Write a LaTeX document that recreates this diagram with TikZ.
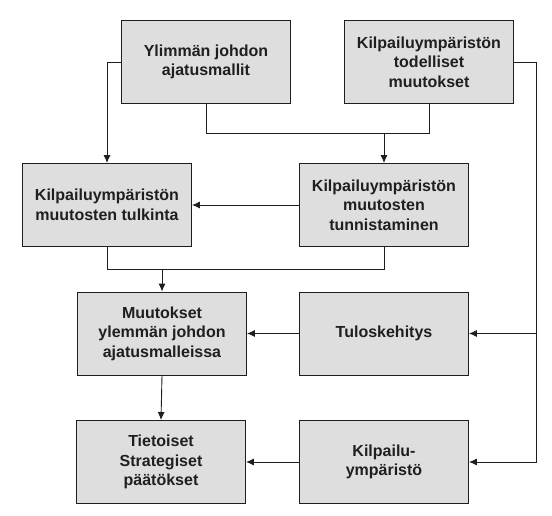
\documentclass[tikz,border=0pt]{standalone}
\usepackage{fontspec}
\setmainfont{Liberation Sans}
\usetikzlibrary{arrows.meta}
\definecolor{boxfill}{HTML}{DEDEDE}
\definecolor{linec}{HTML}{1E1E1E}
\tikzset{
  box/.style={draw=linec, line width=0.9pt, fill=boxfill, rectangle,
    minimum width=169pt, minimum height=83pt, inner sep=2pt, align=center,
    text=black!88, font=\fontsize{16}{19.5}\selectfont\bfseries},
  conn/.style={draw=linec, line width=0.9pt},
  arr/.style={conn, -{Latex[length=8pt,width=7pt]}},
}
\begin{document}
\begin{tikzpicture}[x=1pt,y=-1pt]
\useasboundingbox (0,0) rectangle (552,516);
\node[box] (b1) at (206,62) {Ylimmän johdon\\ajatusmallit};
\node[box] (b2) at (429,62) {Kilpailuympäristön\\todelliset\\muutokset};
\node[box] (b3) at (107,205) {Kilpailuympäristön\\muutosten tulkinta};
\node[box] (b4) at (384,205) {Kilpailuympäristön\\muutosten\\tunnistaminen};
\node[box] (b5) at (162,333.5) {Muutokset\\ylemmän johdon\\ajatusmalleissa};
\node[box] (b6) at (384,333.5) {Tuloskehitys};
\node[box] (b7) at (161,462) {Tietoiset\\Strategiset\\päätökset};
\node[box] (b8) at (384,462) {Kilpailu-\\ympäristö};
\coordinate (j1) at (0,133);
\coordinate (j2) at (0,269);
\coordinate (rb) at (536,0);
% top-left feed
\draw[arr] (b1.west) -| (b3.north);
% top join
\draw[conn] (b1.south) |- (b2.south |- j1) -- (b2.south);
\draw[arr] (b4.north |- j1) -- (b4.north);
% second row
\draw[arr] (b4.west) -- (b3.east);
\draw[conn] (b3.south) |- (b4.south |- j2) -- (b4.south);
\draw[arr] (b5.north |- j2) -- (b5.north);
% right bus
\draw[arr] (b2.east) -| (rb |- b8.east) -- (b8.east);
\draw[arr] (rb |- b6.east) -- (b6.east);
% lower rows
\draw[arr] (b6.west) -- (b5.east);
\draw[arr] (b5.south) -- (b7.north);
\draw[arr] (b8.west) -- (b7.east);
\end{tikzpicture}
\end{document}
